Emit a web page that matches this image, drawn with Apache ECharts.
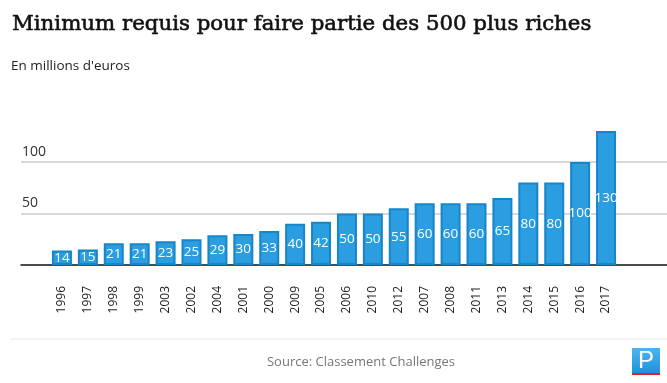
<!DOCTYPE html>
<html>
<head>
<meta charset="utf-8">
<script src="https://cdn.jsdelivr.net/npm/echarts@6/dist/echarts.min.js"></script>
<style>html,body{margin:0;padding:0;background:#fff;}#c{width:667px;height:383px;}</style>
</head>
<body>
<div id="c"></div>
<script>
const categories = ['1996','1997','1998','1999','2003','2002','2004','2001','2000','2009','2005','2006','2010','2012','2007','2008','2011','2013','2014','2015','2016','2017'];
const values = [14,15,21,21,23,25,29,30,33,40,42,50,50,55,60,60,60,65,80,80,100,130];
const yTicks = [0,50,100,150];
const titleText = 'Minimum requis pour faire partie des 500 plus riches';
const subtitleText = "En millions d'euros";
const sourceText = 'Source: Classement Challenges';

const chart = echarts.init(document.getElementById('c'));
const TOP = 110.5, BOTTOM = 118;
chart.setOption({
  animation: false,
  title: [
    {text: titleText, left: 12, top: 14, padding: 0, textStyle: {fontFamily: 'DejaVu Serif', fontSize: 21.3, fontWeight: 'normal', color: '#111', textBorderColor: '#111', textBorderWidth: 0.6}},
    {text: subtitleText, left: 11, top: 59, padding: 0, textStyle: {fontFamily: 'Open Sans', fontSize: 13.5, fontWeight: 'normal', color: '#222'}}
  ],
  grid: [
    {left: 21, right: 0, top: TOP, bottom: BOTTOM},
    {left: 49, right: 48, top: TOP, bottom: BOTTOM}
  ],
  xAxis: [
    {gridIndex: 0, type: 'value', min: 0, max: 1, axisLine: {show: true, onZero: false, lineStyle: {color: '#111', width: 1.5}}, axisTick: {show: false}, axisLabel: {show: false}, splitLine: {show: false}},
    {gridIndex: 1, type: 'category', data: categories, axisLine: {show: false}, axisTick: {show: false},
     axisLabel: {rotate: 90, margin: 21, fontFamily: 'Open Sans', fontSize: 12, color: '#222', interval: 0}}
  ],
  yAxis: [
    {gridIndex: 0, type: 'value', min: yTicks[0], max: yTicks[yTicks.length-1], interval: 50,
     axisLine: {show: false}, axisTick: {show: false},
     axisLabel: {inside: true, margin: 1, verticalAlign: 'bottom', padding: [0,0,3,0], fontFamily: 'Open Sans', fontSize: 14, color: '#333',
       formatter: v => (v === 50 || v === 100) ? String(v) : ''},
     splitLine: {show: true, lineStyle: {color: ['rgba(0,0,0,0)', '#d8d8d8', '#d8d8d8', 'rgba(0,0,0,0)'], width: 2}}},
    {gridIndex: 1, type: 'value', min: yTicks[0], max: yTicks[yTicks.length-1], interval: 50, show: false, splitLine: {show: false}}
  ],
  series: [{
    type: 'bar', xAxisIndex: 1, yAxisIndex: 1, data: values, barWidth: 20,
    itemStyle: {color: '#2a9ee0', borderColor: '#1786c9', borderWidth: 2},
    label: {show: true, position: 'inside', color: '#fff', fontFamily: 'Open Sans', fontSize: 13.5}
  }],
  graphic: [
    {type: 'line', shape: {x1: 10, y1: 339, x2: 667, y2: 339}, style: {stroke: '#e8e8e8', lineWidth: 1}},
    {type: 'text', x: 361, y: 362, style: {text: sourceText, fill: '#777', font: '13px "Open Sans"', textAlign: 'center', textVerticalAlign: 'middle'}},
    {type: 'rect', shape: {x: 632, y: 348, width: 28, height: 25}, style: {fill: new echarts.graphic.LinearGradient(0,0,0,1,[{offset:0,color:'#4fb4ee'},{offset:1,color:'#1e92dc'}])}},
    {type: 'text', x: 646, y: 361, style: {text: 'P', fill: '#fff', font: '24px "Liberation Sans Narrow", "Liberation Sans"', textAlign: 'center', textVerticalAlign: 'middle'}},
    {type: 'rect', shape: {x: 632, y: 373, width: 28, height: 2}, style: {fill: '#e3202b'}}
  ]
});
</script>
</body>
</html>
